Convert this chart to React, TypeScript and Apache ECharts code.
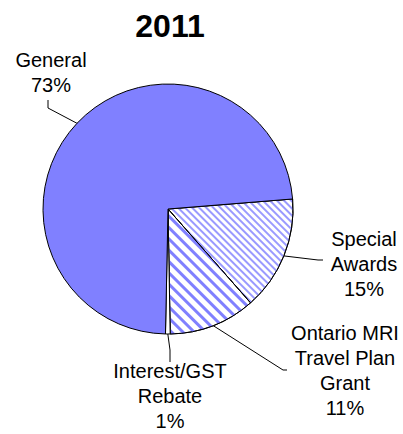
import React, { useEffect, useRef } from "react";
import * as echarts from "echarts";

// Data (clockwise from the top-right boundary)
const categories = [
  "Special\nAwards",
  "Ontario MRI\nTravel Plan\nGrant",
  "Interest/GST\nRebate",
  "General",
];
const values = [14.8, 11.2, 0.6, 73.4];
const title = "2011";

// Styles / layout
const fills = ["#ffffff", "#ffffff", "#ffffff", "#8080FF"];
const stripeColors = ["#9A9AFF", "#8080FF"];
const pieCenter: [number, number] = [168, 209];
const pieRadius = 125;
const startAngle = 4.6;

const labelCenters: [number, number][] = [
  [364, 264],
  [345, 370],
  [170, 396],
  [51, 72],
];
const leaderElbows: [number, number][][] = [
  [[318, 260], [323, 260]],
  [[283, 370], [287, 370]],
  [[170, 350], [170, 362]],
  [[48, 108], [48, 100]],
];

function leaderStart(i: number): number[] {
  const total = values.reduce((a, b) => a + b, 0);
  let cum = 0;
  for (let k = 0; k < i; k++) cum += values[k];
  const mid = startAngle - ((cum + values[i] / 2) / total) * 360;
  const rad = (mid * Math.PI) / 180;
  return [
    pieCenter[0] + pieRadius * Math.cos(rad),
    pieCenter[1] - pieRadius * Math.sin(rad),
  ];
}

export default function App() {
  const ref = useRef<HTMLDivElement>(null);
  useEffect(() => {
    if (!ref.current) return;
    const chart = echarts.init(ref.current, undefined, { renderer: "svg" });
    const decals: any[] = [
      {
        symbol: "rect",
        symbolSize: 1,
        dashArrayX: [1, 0],
        dashArrayY: [1.5, 2.5],
        rotation: Math.PI / 4,
        color: stripeColors[0],
      },
      {
        symbol: "rect",
        symbolSize: 1,
        dashArrayX: [1, 0],
        dashArrayY: [3, 5],
        rotation: Math.PI / 4,
        color: stripeColors[1],
      },
      null,
      null,
    ];
    chart.setOption({
      animation: false,
      backgroundColor: "#ffffff",
      title: {
        text: title,
        left: 165,
        top: 5,
        textAlign: "center",
        textStyle: {
          fontFamily: "Liberation Sans",
          fontWeight: "bold",
          fontSize: 32,
          color: "#000",
        },
      },
      series: [
        {
          type: "pie",
          center: pieCenter,
          radius: pieRadius,
          startAngle,
          clockwise: true,
          percentPrecision: 0,
          avoidLabelOverlap: false,
          data: categories.map((name, i) => ({
            name,
            value: values[i],
            itemStyle: {
              color: fills[i],
              borderColor: "#000",
              borderWidth: 1,
              ...(decals[i] ? { decal: decals[i] } : {}),
            },
          })),
          label: {
            show: true,
            position: "outside",
            formatter: "{b}\n{d}%",
            fontFamily: "Liberation Sans",
            fontSize: 20,
            lineHeight: 25,
            color: "#000",
            align: "center",
          },
          labelLine: {
            show: true,
            lineStyle: { color: "#000", width: 1 },
          },
          labelLayout: (params: any) => {
            const i = params.dataIndex;
            const c = labelCenters[i];
            return {
              x: c[0],
              y: c[1],
              align: "center",
              verticalAlign: "middle",
              labelLinePoints: [leaderStart(i), leaderElbows[i][0], leaderElbows[i][1]],
            };
          },
          emphasis: { disabled: true },
        },
      ],
    });
    return () => chart.dispose();
  }, []);
  return (
    <div
      ref={ref}
      style={{ position: "fixed", left: 0, top: 0, width: 403, height: 434 }}
    />
  );
}
